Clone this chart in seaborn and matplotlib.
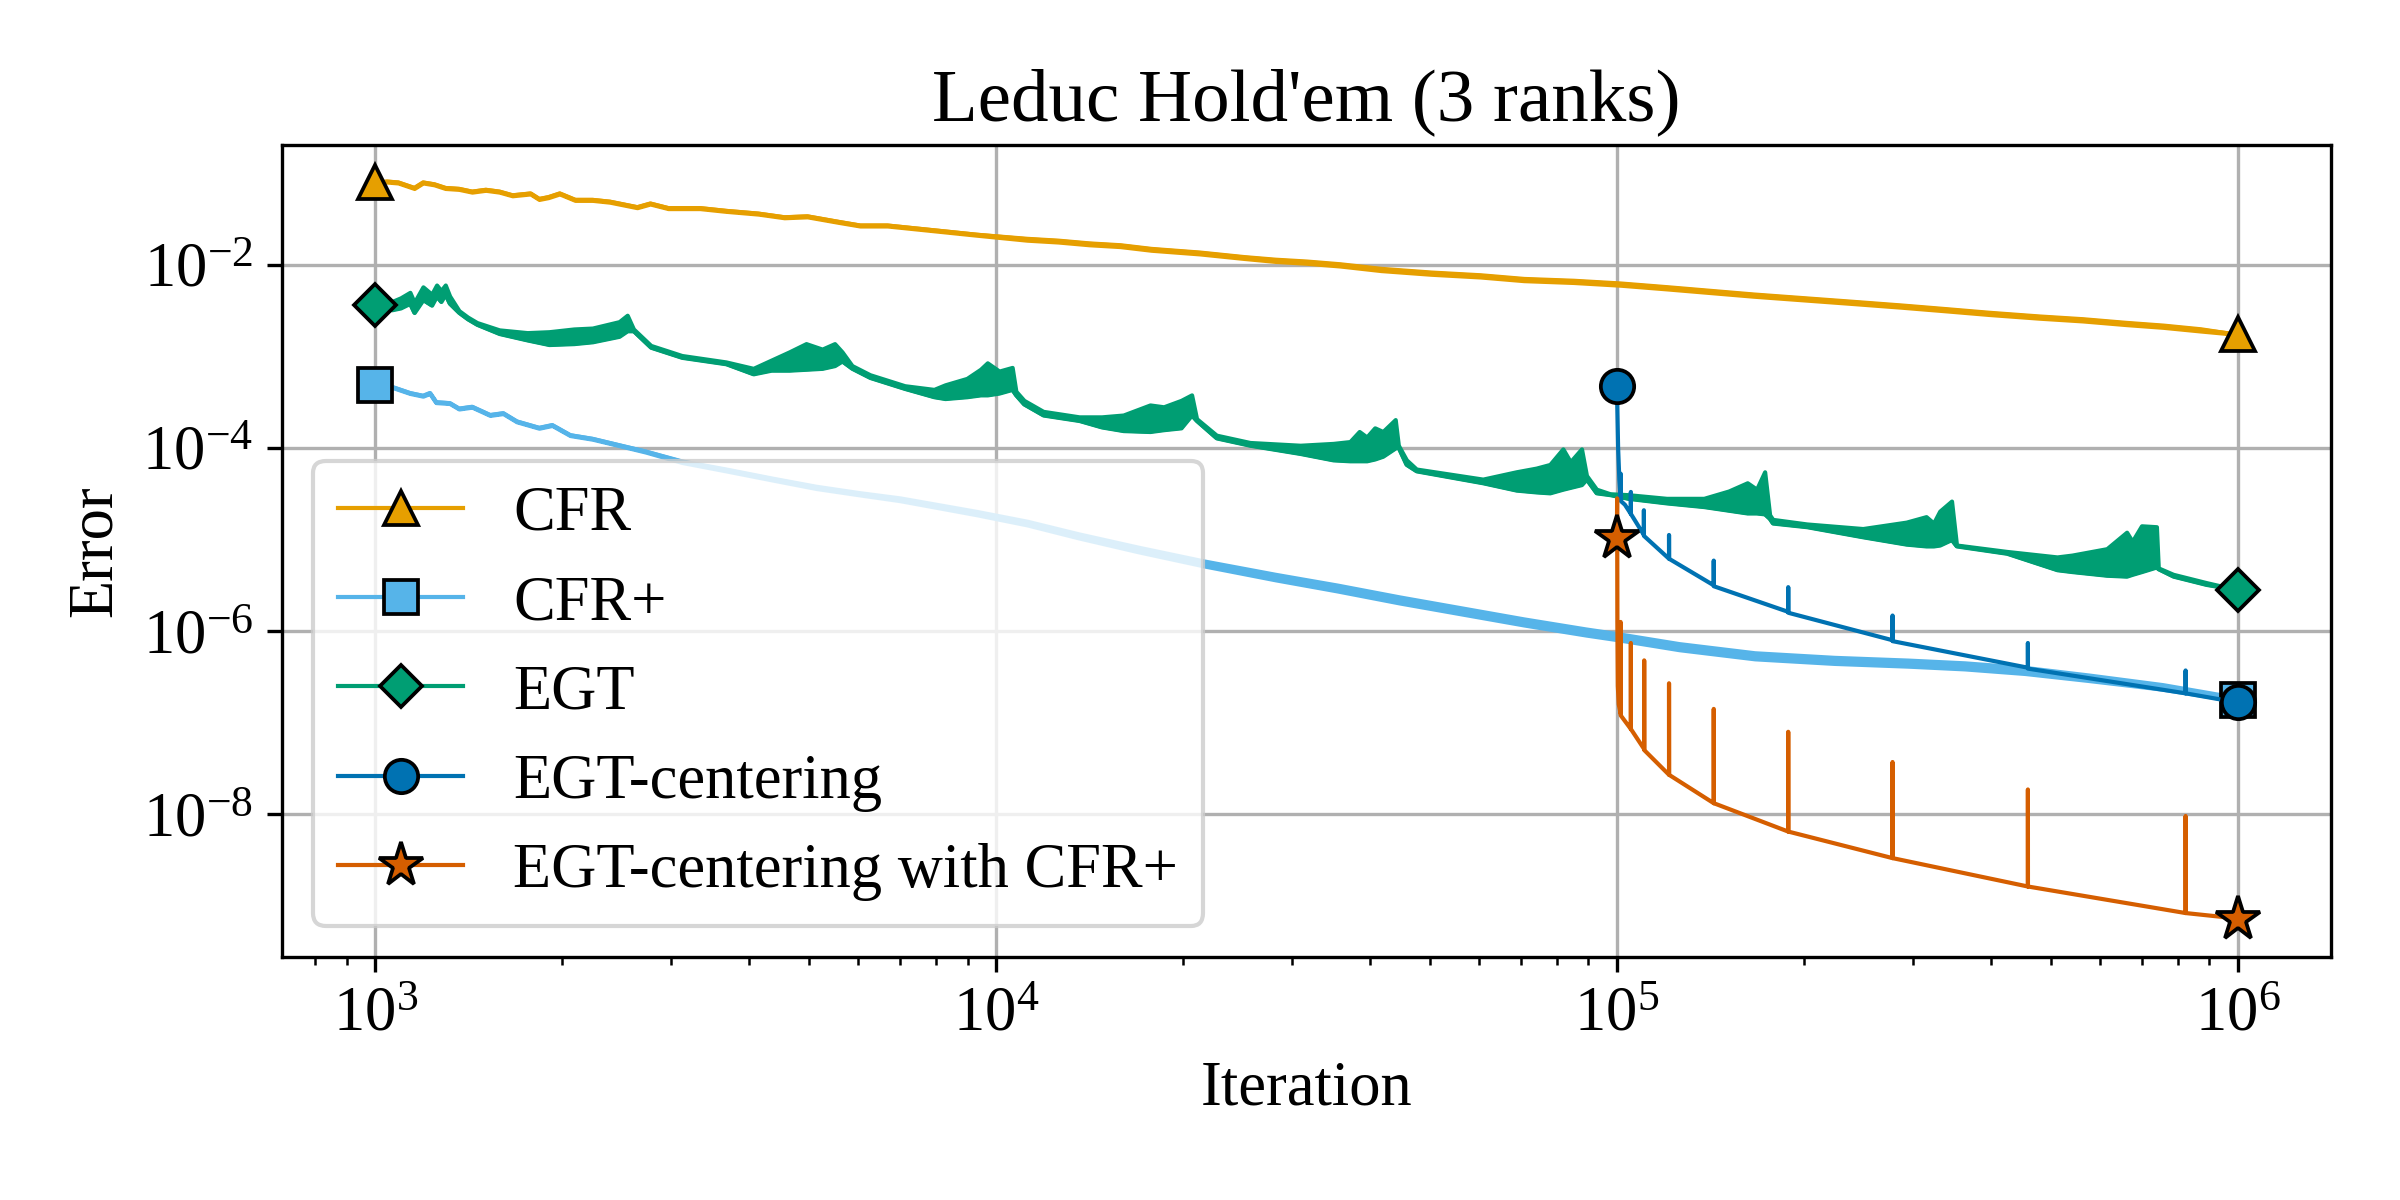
import numpy as np
import matplotlib
matplotlib.use("Agg")
import matplotlib.pyplot as plt
import seaborn as sns
from matplotlib.ticker import NullLocator

# ---------------- data (log10 values) ----------------
# CFR
cfr_iter_log = [3.0, 3.019, 3.037, 3.063, 3.077, 3.095, 3.113, 3.135, 3.156, 3.178,
                3.20, 3.221, 3.25, 3.264, 3.279, 3.297, 3.322, 3.35, 3.378, 3.422,
                3.443, 3.472, 3.523, 3.565, 3.617, 3.659, 3.696, 3.746, 3.781, 3.825,
                3.868, 3.911, 3.968, 4.05, 4.10, 4.15, 4.20, 4.25, 4.328, 4.40,
                4.45, 4.50, 4.554, 4.62, 4.70, 4.78, 4.85, 4.93, 5.006, 5.08,
                5.15, 5.22, 5.30, 5.38, 5.458, 5.53, 5.60, 5.68, 5.75, 5.82,
                5.88, 5.94, 6.0]
cfr_err_log = [-1.10, -1.09, -1.10, -1.16, -1.10, -1.12, -1.16, -1.17, -1.20, -1.18,
               -1.20, -1.24, -1.22, -1.28, -1.26, -1.22, -1.29, -1.29, -1.31, -1.37,
               -1.33, -1.38, -1.38, -1.41, -1.44, -1.48, -1.47, -1.53, -1.57, -1.57,
               -1.60, -1.63, -1.67, -1.72, -1.74, -1.77, -1.79, -1.83, -1.87, -1.92,
               -1.95, -1.97, -2.00, -2.05, -2.09, -2.12, -2.16, -2.18, -2.21, -2.25,
               -2.29, -2.33, -2.37, -2.41, -2.45, -2.49, -2.53, -2.57, -2.60, -2.64,
               -2.67, -2.71, -2.76]
cfr_spread = [0.0, 0.005, 0.005, 0.005, 0.005, 0.005, 0.005, 0.005, 0.005, 0.005,
              0.005, 0.005, 0.005, 0.005, 0.005, 0.005, 0.005, 0.005, 0.005, 0.005,
              0.005, 0.005, 0.005, 0.005, 0.005, 0.005, 0.005, 0.005, 0.005, 0.005,
              0.005, 0.005, 0.005, 0.010, 0.010, 0.010, 0.010, 0.010, 0.010, 0.010,
              0.012, 0.012, 0.012, 0.012, 0.012, 0.012, 0.012, 0.012, 0.012, 0.012,
              0.012, 0.012, 0.012, 0.012, 0.012, 0.012, 0.012, 0.012, 0.012, 0.012,
              0.012, 0.012, 0.0]

# CFR+
cfrp_iter_log = [3.0, 3.03, 3.056, 3.077, 3.088, 3.098, 3.12, 3.135, 3.156, 3.185,
                 3.206, 3.228, 3.264, 3.285, 3.314, 3.35, 3.393, 3.436, 3.494, 3.565,
                 3.64, 3.71, 3.78, 3.845, 3.968, 4.05, 4.133, 4.23, 4.334, 4.45,
                 4.55, 4.65, 4.75, 4.85, 4.95, 5.0, 5.10, 5.222, 5.35, 5.469,
                 5.56, 5.657, 5.76, 5.879, 5.977, 6.0]
cfrp_err_log = [-3.31, -3.34, -3.40, -3.43, -3.40, -3.50, -3.51, -3.57, -3.55, -3.64,
                -3.62, -3.71, -3.78, -3.75, -3.86, -3.90, -3.97, -4.04, -4.15, -4.24,
                -4.34, -4.43, -4.50, -4.56, -4.71, -4.82, -4.96, -5.11, -5.26, -5.41,
                -5.53, -5.66, -5.78, -5.90, -6.01, -6.06, -6.17, -6.27, -6.32, -6.35,
                -6.38, -6.43, -6.51, -6.61, -6.72, -6.75]
cfrp_spread = [0.0, 0.004, 0.004, 0.004, 0.004, 0.004, 0.004, 0.004, 0.004, 0.004,
               0.004, 0.004, 0.004, 0.004, 0.004, 0.004, 0.004, 0.005, 0.008, 0.010,
               0.010, 0.012, 0.012, 0.015, 0.018, 0.020, 0.022, 0.025, 0.027, 0.030,
               0.032, 0.033, 0.033, 0.033, 0.033, 0.033, 0.033, 0.033, 0.033, 0.033,
               0.033, 0.033, 0.030, 0.025, 0.020, 0.0]

# EGT (lower / upper edge of the oscillating band)
egt_iter_log = [3.0, 3.015, 3.027, 3.041, 3.056, 3.063, 3.077, 3.091, 3.099, 3.106,
                3.113, 3.120, 3.135, 3.149, 3.164, 3.20, 3.245, 3.28, 3.32, 3.35,
                3.393, 3.406, 3.416, 3.444, 3.494, 3.565, 3.609, 3.638, 3.667, 3.694,
                3.72, 3.74, 3.752, 3.768, 3.797, 3.853, 3.90, 3.918, 3.953, 3.975,
                3.986, 4.005, 4.026, 4.032, 4.045, 4.076, 4.134, 4.17, 4.205, 4.248,
                4.27, 4.298, 4.315, 4.323, 4.355, 4.409, 4.49, 4.543, 4.57, 4.585,
                4.597, 4.61, 4.623, 4.643, 4.648, 4.661, 4.677, 4.784, 4.838, 4.87,
                4.892, 4.913, 4.925, 4.943, 4.951, 4.967, 4.989, 5.018, 5.08, 5.14,
                5.18, 5.21, 5.225, 5.238, 5.246, 5.251, 5.306, 5.396, 5.466, 5.498,
                5.51, 5.52, 5.539, 5.547, 5.628, 5.709, 5.733, 5.789, 5.821, 5.83,
                5.845, 5.869, 5.872, 5.896, 5.949, 6.0]
egt_lo_log = [-2.44, -2.47, -2.49, -2.47, -2.42, -2.52, -2.38, -2.44, -2.34, -2.40,
              -2.32, -2.42, -2.52, -2.59, -2.65, -2.75, -2.82, -2.87, -2.86, -2.84,
              -2.78, -2.72, -2.72, -2.90, -3.01, -3.08, -3.19, -3.15, -3.15, -3.14,
              -3.13, -3.10, -3.05, -3.13, -3.23, -3.35, -3.44, -3.46, -3.44, -3.42,
              -3.42, -3.40, -3.36, -3.42, -3.52, -3.64, -3.70, -3.77, -3.81, -3.82,
              -3.80, -3.78, -3.64, -3.70, -3.89, -3.97, -4.06, -4.13, -4.14, -4.14,
              -4.14, -4.12, -4.09, -4.00, -3.99, -4.18, -4.25, -4.38, -4.46, -4.48,
              -4.49, -4.45, -4.43, -4.40, -4.34, -4.49, -4.51, -4.55, -4.60, -4.64,
              -4.68, -4.71, -4.71, -4.72, -4.77, -4.82, -4.86, -4.97, -5.05, -5.07,
              -5.07, -5.06, -5.00, -5.07, -5.15, -5.33, -5.35, -5.39, -5.40, -5.38,
              -5.35, -5.30, -5.32, -5.40, -5.49, -5.55]
egt_hi_log = [-2.44, -2.38, -2.40, -2.36, -2.30, -2.41, -2.24, -2.32, -2.22, -2.28,
              -2.22, -2.34, -2.50, -2.57, -2.63, -2.71, -2.74, -2.73, -2.70, -2.69,
              -2.62, -2.55, -2.70, -2.88, -2.99, -3.06, -3.13, -3.04, -2.95, -2.86,
              -2.92, -2.86, -2.95, -3.10, -3.20, -3.32, -3.36, -3.31, -3.24, -3.14,
              -3.07, -3.16, -3.12, -3.38, -3.48, -3.60, -3.66, -3.66, -3.64, -3.53,
              -3.55, -3.48, -3.42, -3.68, -3.86, -3.94, -3.97, -3.95, -3.93, -3.82,
              -3.88, -3.78, -3.82, -3.69, -3.97, -4.13, -4.23, -4.34, -4.26, -4.22,
              -4.18, -4.01, -4.15, -4.01, -4.30, -4.45, -4.50, -4.51, -4.55, -4.55,
              -4.47, -4.38, -4.45, -4.26, -4.73, -4.78, -4.83, -4.88, -4.81, -4.75,
              -4.82, -4.69, -4.58, -5.06, -5.13, -5.19, -5.17, -5.10, -4.92, -5.02,
              -4.85, -4.86, -5.31, -5.38, -5.47, -5.55]

# EGT-centering
egtc_iter_log = [5.0, 5.002, 5.004, 5.006, 5.006, 5.0065, 5.013,
                 5.0225, 5.0225, 5.0226, 5.0435, 5.0435, 5.0436,
                 5.084, 5.084, 5.0841, 5.156, 5.156, 5.1561,
                 5.276, 5.276, 5.2761, 5.444, 5.444, 5.4441,
                 5.662, 5.662, 5.6621, 5.916, 5.916, 5.9161, 6.0]
egtc_err_log = [-3.32, -4.00, -4.35, -4.55, -4.28, -4.58, -4.62,
                -4.72, -4.48, -4.72, -4.95, -4.68, -4.96,
                -5.21, -4.95, -5.21, -5.50, -5.23, -5.51,
                -5.79, -5.52, -5.80, -6.10, -5.83, -6.11,
                -6.40, -6.13, -6.41, -6.68, -6.43, -6.68, -6.78]

# EGT-centering with CFR+
egtcp_iter_log = [5.0, 5.0004, 5.0008, 5.0015, 5.003,
                  5.006, 5.006, 5.0061, 5.0225, 5.0225, 5.0226,
                  5.044, 5.044, 5.0441, 5.084, 5.084, 5.0841,
                  5.156, 5.156, 5.1561, 5.276, 5.276, 5.2761,
                  5.444, 5.444, 5.4441, 5.662, 5.662, 5.6621,
                  5.916, 5.916, 5.9161, 6.0]
egtcp_err_log = [-4.98, -4.55, -5.90, -6.60, -6.80,
                 -6.90, -5.90, -6.92, -7.07, -6.13, -7.07,
                 -7.29, -6.32, -7.30, -7.57, -6.57, -7.57,
                 -7.88, -6.85, -7.88, -8.19, -7.10, -8.19,
                 -8.48, -7.43, -8.48, -8.79, -7.73, -8.79,
                 -9.08, -8.02, -9.08, -9.14]

labels = ["CFR", "CFR+", "EGT", "EGT-centering", "EGT-centering with CFR+"]
colors = ["#E69F00", "#56B4E9", "#009E73", "#0072B2", "#D55E00"]
markers = ["^", "s", "D", "o", "*"]
msizes = [8, 8, 7, 8, 11]
y_ticks = [1e-8, 1e-6, 1e-4, 1e-2]

# ---------------- style ----------------
plt.rcParams["font.family"] = ["Liberation Serif", "DejaVu Serif"]
plt.rcParams["mathtext.fontset"] = "custom"
plt.rcParams["mathtext.rm"] = "Liberation Serif"
plt.rcParams["mathtext.it"] = "Liberation Serif:italic"
plt.rcParams["mathtext.bf"] = "Liberation Serif:bold"

fig = plt.figure(figsize=(8, 4), dpi=300)
ax = fig.add_axes([0.1175, 0.2025, 0.8537, 0.6767])
ax.set_xscale("log")
ax.set_yscale("log")
ax.grid(True, which="major", color="#b0b0b0", linewidth=0.8)


def p10(a):
    return np.power(10.0, np.asarray(a, dtype=float))


def draw(i, xlog, ylog, band_lo=None, band_hi=None):
    x = p10(xlog)
    y = p10(ylog)
    if band_lo is not None:
        ax.fill_between(x, p10(band_lo), p10(band_hi), facecolor=colors[i],
                        edgecolor=colors[i], linewidth=1.0, zorder=2)
    sns.lineplot(x=x, y=y, ax=ax, color=colors[i], linewidth=1.0,
                 marker=markers[i], markersize=msizes[i],
                 markevery=[0, len(x) - 1], markeredgecolor="black",
                 markeredgewidth=0.9, sort=False, estimator=None,
                 label=labels[i], legend=False, zorder=2)


c = np.asarray(cfr_err_log); s = np.asarray(cfr_spread)
draw(0, cfr_iter_log, cfr_err_log, c - s, c + s)
c = np.asarray(cfrp_err_log); s = np.asarray(cfrp_spread)
draw(1, cfrp_iter_log, cfrp_err_log, c - s, c + s)
draw(2, egt_iter_log, egt_lo_log, egt_lo_log, egt_hi_log)
draw(3, egtc_iter_log, egtc_err_log)
draw(4, egtcp_iter_log, egtcp_err_log)

ax.set_xlim(10 ** 2.85, 10 ** 6.15)
ax.set_ylim(10 ** -9.56, 10 ** -0.69)
ax.set_yticks(y_ticks)
ax.yaxis.set_minor_locator(NullLocator())
ax.tick_params(labelsize=15)

ax.set_title("Leduc Hold'em (3 ranks)", fontsize=18)
ax.set_xlabel("Iteration", fontsize=15)
ax.set_ylabel("Error", fontsize=15)
ax.legend(loc="lower left", fontsize=15)

fig.savefig("out.png", dpi=300)
